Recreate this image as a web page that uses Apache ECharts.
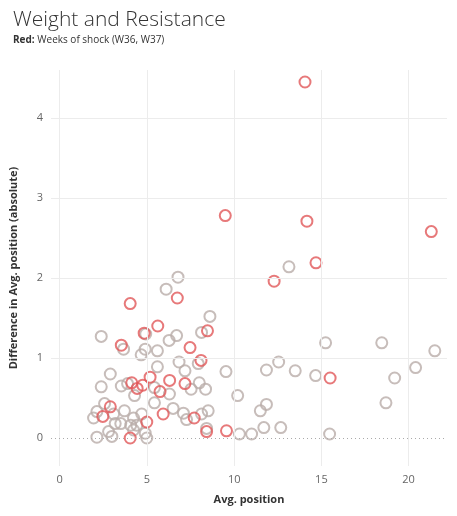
<!DOCTYPE html>
<html>
<head>
<meta charset="utf-8">
<script src="https://cdn.jsdelivr.net/npm/echarts@6/dist/echarts.min.js"></script>
<style>
html,body{margin:0;padding:0;background:#fff;}
#main{width:457px;height:516px;}
</style>
</head>
<body>
<div id="main"></div>
<script>
// other weeks (gray)
var grayPoints = [
	[6.78,2.01],[6.10,1.86],[8.61,1.52],[2.38,1.27],[4.93,1.30],[6.70,1.28],[6.27,1.22],[8.13,1.32],
	[3.66,1.11],[4.90,1.11],[5.60,1.09],[4.67,1.04],[6.84,0.95],[5.60,0.89],[7.18,0.84],[7.94,0.93],
	[9.53,0.83],[2.90,0.80],[2.38,0.64],[3.53,0.65],[3.89,0.68],[4.29,0.53],[5.43,0.63],[6.29,0.55],
	[7.53,0.61],[8.00,0.69],[8.36,0.61],[5.43,0.44],[2.57,0.43],[3.71,0.34],[2.13,0.33],[1.94,0.25],
	[3.09,0.30],[6.50,0.37],[7.09,0.31],[8.13,0.30],[8.51,0.34],[7.27,0.23],[3.18,0.18],[3.50,0.18],
	[4.23,0.25],[4.70,0.30],[4.07,0.16],[4.42,0.16],[4.23,0.10],[2.80,0.08],[2.99,0.02],[2.13,0.01],
	[4.90,0.06],[4.99,0.00],[8.42,0.12],[10.2,0.53],[10.3,0.05],[11.0,0.05],[11.7,0.13],[12.67,0.13],
	[11.5,0.34],[11.85,0.42],[11.85,0.85],[12.55,0.95],[13.5,0.84],[14.67,0.78],[13.14,2.14],
	[15.24,1.19],[18.46,1.19],[21.5,1.09],[20.4,0.88],[19.2,0.75],[18.7,0.44],[15.47,0.05]
];
// shock weeks W36, W37 (red)
var redPoints = [
	[14.06,4.45],[9.49,2.78],[14.17,2.71],[21.3,2.58],[14.69,2.19],[12.29,1.96],
	[4.04,1.68],[6.74,1.75],[5.62,1.40],[4.84,1.31],[8.47,1.34],[3.53,1.16],[7.47,1.13],[8.10,0.97],
	[5.18,0.76],[6.30,0.72],[7.18,0.68],[4.13,0.69],[4.76,0.66],[4.44,0.62],[5.75,0.58],[2.90,0.39],
	[2.47,0.27],[4.99,0.20],[5.93,0.30],[7.71,0.25],[8.42,0.08],[9.56,0.09],[4.04,0.00],[15.5,0.75]
];
var xTicks = [0,5,10,15,20];
var yTicks = [1,2,3,4];
var yLabels = [0,1,2,3,4];

var charts = echarts.init(document.getElementById("main"));
var option = {
	animation:false,
	title:{
		text:"Weight and Resistance",
		left:8, top:5,
		textStyle:{fontFamily:"Open Sans",fontWeight:300,fontSize:21,color:"#333"},
		subtext:"{b|Red:} Weeks of shock (W36, W37)",
		itemGap:4,
		subtextStyle:{fontFamily:"Open Sans",fontSize:10,color:"#333",
			rich:{b:{fontWeight:"bold",fontFamily:"Open Sans",fontSize:10,color:"#333"}}}
	},
	grid:{left:51,right:10,top:70,bottom:50},
	xAxis:{
		type:"value", min:-0.5, max:22.2,
		name:"Avg. position", nameLocation:"middle", nameGap:28,
		nameTextStyle:{fontFamily:"Open Sans",fontWeight:"bold",fontSize:11,color:"#333"},
		axisLine:{show:false}, axisTick:{show:false},
		axisLabel:{customValues:xTicks,color:"#666",fontFamily:"Open Sans",fontSize:11},
		splitLine:{show:false}
	},
	yAxis:{
		type:"value", min:-0.35, max:4.6,
		name:"Difference in Avg. position (absolute)", nameLocation:"middle", nameGap:32,
		nameTextStyle:{fontFamily:"Open Sans",fontWeight:"bold",fontSize:11,color:"#333"},
		axisLine:{show:false}, axisTick:{show:false},
		axisLabel:{customValues:yLabels,color:"#666",fontFamily:"Open Sans",fontSize:11},
		splitLine:{show:false}
	},
	series:[
		{
			name:"grid", type:"scatter", data:[], silent:true,
			markLine:{
				symbol:"none", silent:true, label:{show:false},
				lineStyle:{color:"#ececec",type:"solid",width:1},
				data:xTicks.map(function(v){return {xAxis:v};}).concat(yTicks.map(function(v){return {yAxis:v};}))
					.concat([{yAxis:0,lineStyle:{color:"#aaa",type:[1,3]}}])
			}
		},
		{
			name:"other", type:"scatter", data:grayPoints, symbol:"circle", symbolSize:11,
			itemStyle:{color:"rgba(0,0,0,0)",borderColor:"#b9ada9",borderWidth:2}
		},
		{
			name:"shock", type:"scatter", data:redPoints, symbol:"circle", symbolSize:11,
			itemStyle:{color:"rgba(0,0,0,0)",borderColor:"#e15759",borderWidth:2}
		}
	]
};
charts.setOption(option);
</script>
</body>
</html>
